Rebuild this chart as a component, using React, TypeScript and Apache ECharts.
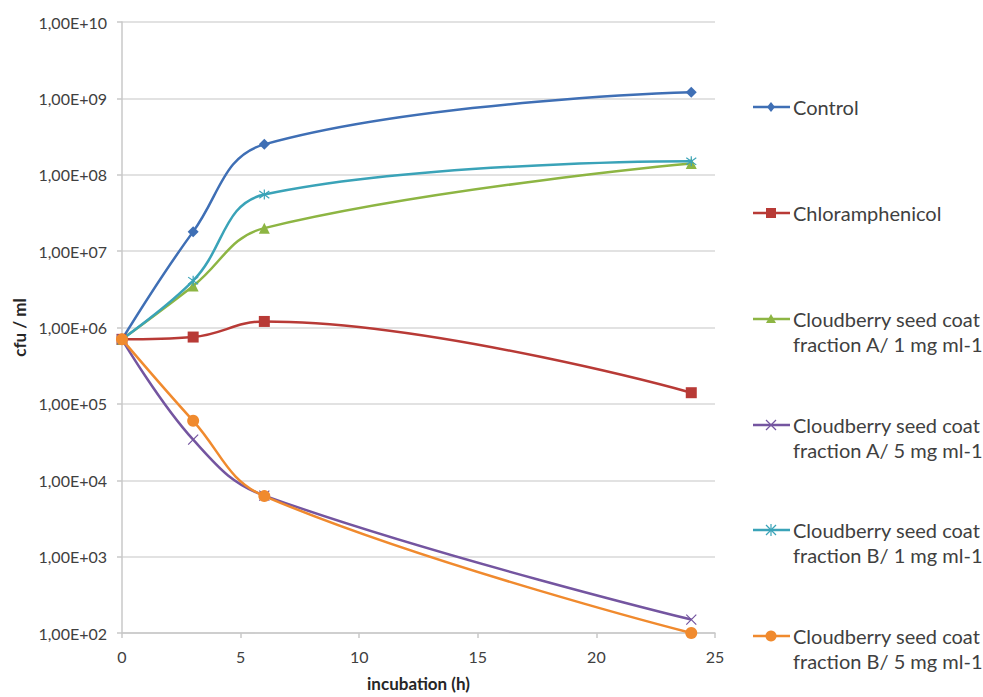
import React, { useEffect, useRef } from "react";
import * as echarts from "echarts";

const hours = [0, 3, 6, 24];
const control = [7.0e5, 1.8e7, 2.5e8, 1.2e9];
const chloramphenicol = [7.0e5, 7.5e5, 1.2e6, 1.4e5];
const fracA1 = [7.0e5, 3.5e6, 2.0e7, 1.4e8];
const fracA5 = [7.0e5, 3.4e4, 6.3e3, 1.5e2];
const fracB1 = [7.0e5, 4.1e6, 5.5e7, 1.5e8];
const fracB5 = [7.0e5, 6.0e4, 6.2e3, 1.0e2];

const seriesNames = [
  "Control",
  "Chloramphenicol",
  "Cloudberry seed coat\nfraction A/ 1 mg ml-1",
  "Cloudberry seed coat\nfraction A/ 5 mg ml-1",
  "Cloudberry seed coat\nfraction B/ 1 mg ml-1",
  "Cloudberry seed coat\nfraction B/ 5 mg ml-1",
];
const seriesData = [control, chloramphenicol, fracA1, fracA5, fracB1, fracB5];
const colors = ["#3F6FB5", "#B83A36", "#8DB543", "#7455A0", "#3AA3B8", "#F08A2E"];
const markers = ["diamond", "rect", "triangle", "x", "star", "circle"];

const FONT = "Lato, 'Open Sans', 'Liberation Sans', sans-serif";

const X_PATH = "path://M0 0L10 10M10 0L0 10";
const STAR_PATH = "path://M0 0L10 10M10 0L0 10M5 -2L5 12";

function symbolFor(m: string) {
  if (m === "x") return X_PATH;
  if (m === "star") return STAR_PATH;
  return m;
}

function legendMarker(m: string, cx: number, cy: number, color: string): any[] {
  const s = 5;
  switch (m) {
    case "diamond":
      return [{ type: "polygon", shape: { points: [[cx, cy - s], [cx + s * 0.8, cy], [cx, cy + s], [cx - s * 0.8, cy]] }, style: { fill: color } }];
    case "rect":
      return [{ type: "rect", shape: { x: cx - 5, y: cy - 5, width: 10, height: 10 }, style: { fill: color } }];
    case "triangle":
      return [{ type: "polygon", shape: { points: [[cx, cy - 5], [cx + 5, cy + 4], [cx - 5, cy + 4]] }, style: { fill: color } }];
    case "x":
      return [
        { type: "line", shape: { x1: cx - 5, y1: cy - 5, x2: cx + 5, y2: cy + 5 }, style: { stroke: color, lineWidth: 1.2 } },
        { type: "line", shape: { x1: cx + 5, y1: cy - 5, x2: cx - 5, y2: cy + 5 }, style: { stroke: color, lineWidth: 1.2 } },
      ];
    case "star":
      return [
        { type: "line", shape: { x1: cx - 5, y1: cy - 5, x2: cx + 5, y2: cy + 5 }, style: { stroke: color, lineWidth: 1.2 } },
        { type: "line", shape: { x1: cx + 5, y1: cy - 5, x2: cx - 5, y2: cy + 5 }, style: { stroke: color, lineWidth: 1.2 } },
        { type: "line", shape: { x1: cx, y1: cy - 6, x2: cx, y2: cy + 6 }, style: { stroke: color, lineWidth: 1.2 } },
      ];
    default:
      return [{ type: "circle", shape: { cx, cy, r: 5.5 }, style: { fill: color } }];
  }
}

export default function App() {
  const ref = useRef<HTMLDivElement>(null);
  useEffect(() => {
    if (!ref.current) return;
    const chart = echarts.init(ref.current, null, { renderer: "svg" });

    const legendY = [107, 213, 319, 425, 530, 636];
    const graphics: any[] = [];
    seriesNames.forEach((name, i) => {
      const y = legendY[i];
      graphics.push({ type: "line", shape: { x1: 753, y1: y, x2: 790, y2: y }, style: { stroke: colors[i], lineWidth: 2.5 } });
      legendMarker(markers[i], 771, y, colors[i]).forEach((g) => graphics.push(g));
      graphics.push({
        type: "text",
        x: 793,
        y: y - 12.5,
        style: { text: name, font: `20px ${FONT}`, fill: "#404040", lineHeight: 25, textVerticalAlign: "top" },
      });
    });

    chart.setOption({
      animation: false,
      backgroundColor: "#ffffff",
      grid: { left: 122, right: 268, top: 22, bottom: 62, containLabel: false },
      xAxis: {
        type: "value",
        min: 0,
        max: 25,
        interval: 5,
        name: "incubation (h)",
        nameLocation: "middle",
        nameGap: 42,
        nameTextStyle: { fontFamily: FONT, fontSize: 17, fontWeight: "bold", color: "#262626" },
        axisLine: { show: true, lineStyle: { color: "#c8c8c8", width: 1.5 } },
        axisTick: { show: true, length: 5, lineStyle: { color: "#c8c8c8", width: 1.5 } },
        axisLabel: { fontFamily: FONT, fontSize: 16, color: "#404040", margin: 15 },
        splitLine: { show: false },
      },
      yAxis: {
        type: "log",
        logBase: 10,
        min: 100,
        max: 1e10,
        name: "cfu / ml",
        nameLocation: "middle",
        nameGap: 90,
        nameTextStyle: { fontFamily: FONT, fontSize: 17, fontWeight: "bold", color: "#262626" },
        axisLine: { show: true, lineStyle: { color: "#c8c8c8", width: 1.5 } },
        axisTick: { show: true, length: 5, lineStyle: { color: "#c8c8c8", width: 1.5 } },
        axisLabel: {
          fontFamily: FONT,
          fontSize: 16,
          color: "#404040",
          margin: 15,
          formatter: (v: number) => {
            const e = Math.round(Math.log10(v));
            return "1,00E+" + (e < 10 ? "0" + e : String(e));
          },
        },
        splitLine: { show: true, lineStyle: { color: "#d9d9d9", width: 1.5 } },
      },
      series: seriesNames.map((name, i) => ({
        name,
        type: "line",
        smooth: 0.4,
        data: hours.map((h, j) => [h, seriesData[i][j]]),
        symbol: symbolFor(markers[i]),
        symbolSize: markers[i] === "circle" ? 12 : markers[i] === "x" || markers[i] === "star" ? 10 : 11,
        showSymbol: true,
        lineStyle: { color: colors[i], width: 2.5 },
        itemStyle: {
          color: colors[i],
          borderColor: colors[i],
          borderWidth: markers[i] === "x" || markers[i] === "star" ? 1.2 : 0,
        },
        z: 2 + i,
      })),
      graphic: graphics,
    });
    return () => chart.dispose();
  }, []);
  return <div ref={ref} style={{ position: "fixed", left: 0, top: 0, width: 983, height: 697 }} />;
}
